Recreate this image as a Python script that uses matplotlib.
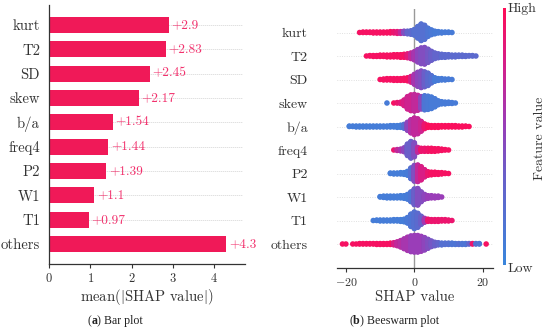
import numpy as np
import matplotlib
matplotlib.use('Agg')
import matplotlib.pyplot as plt
from matplotlib.colors import LinearSegmentedColormap

# ---------------- data ----------------
features = ['kurt', 'T2', 'SD', 'skew', 'b/a', 'freq4', 'P2', 'W1', 'T1', 'others']
mean_abs_shap = [2.9, 2.83, 2.45, 2.17, 1.54, 1.44, 1.39, 1.1, 0.97, 4.3]
bar_ticks = [0, 1, 2, 3, 4]
swarm_ticks = [-20, 0, 20]

# beeswarm: per feature, SHAP value positions, number of points there, mean feature value (0 low .. 1 high)
kurt_shap = [-16, -15, -14, -13, -12, -11, -10, -9, -8, -7, -6, -5, -4, -3, -2, -1, 0, 1, 2, 3, 4, 5, 6, 7, 8, 9, 10, 11]
kurt_count = [1, 2, 2, 2, 3, 3, 3, 3, 3, 4, 4, 5, 5, 6, 7, 9, 14, 28, 40, 34, 20, 12, 7, 4, 3, 2, 2, 1]
kurt_feat = [.95, .95, .95, .95, .95, .95, .95, .95, .95, .95, .9, .85, .7, .45, .3, .25, .2, .2, .2, .2, .15, .12, .1, .1, .1, .1, .1, .1]

T2_shap = [-14, -13, -12, -11, -10, -9, -8, -7, -6, -5, -4, -3, -2, -1, 0, 1, 2, 3, 4, 5, 6, 7, 8, 9, 10, 11, 12, 13, 14, 15, 16, 17, 18]
T2_count = [1, 2, 3, 3, 4, 4, 5, 5, 6, 6, 7, 8, 10, 14, 20, 30, 38, 40, 32, 22, 14, 10, 8, 7, 6, 5, 5, 4, 4, 3, 2, 2, 1]
T2_feat = [.95, .95, .95, .95, .95, .95, .95, .95, .95, .95, .95, .95, .85, .7, .6, .5, .45, .45, .4, .35, .3, .3, .25, .25, .25, .25, .25, .25, .25, .25, .25, .25, .25]

SD_shap = [-10, -9, -8, -7, -6, -5, -4, -3, -2, -1, 0, 1, 2, 3, 4, 5, 6, 7, 8, 9, 10, 11]
SD_count = [1, 3, 4, 4, 5, 5, 5, 6, 8, 14, 24, 34, 40, 36, 30, 18, 9, 5, 4, 3, 2, 1]
SD_feat = [.95, .95, .95, .95, .95, .95, .95, .95, .95, .8, .6, .5, .45, .35, .25, .2, .1, .1, .1, .1, .1, .1]

skew_shap = [-8, -6, -5, -4, -3, -2, -1, 0, 1, 2, 3, 4, 5, 6, 7, 8, 9, 10, 11, 12]
skew_count = [1, 1, 2, 4, 14, 30, 38, 40, 36, 30, 34, 32, 28, 20, 10, 6, 5, 4, 3, 1]
skew_feat = [.1, .95, .9, .85, .8, .75, .75, .7, .7, .5, .15, .12, .1, .1, .1, .1, .1, .1, .1, .1]

ba_shap = [-19, -18, -17, -16, -15, -14, -13, -12, -11, -10, -9, -8, -7, -6, -5, -4, -3, -2, -1, 0, 1, 2, 3, 4, 5, 6, 7, 8, 9, 10, 11, 12, 13, 14, 15, 16]
ba_count = [2, 2, 3, 3, 3, 3, 3, 3, 3, 3, 3, 3, 4, 4, 5, 6, 10, 20, 32, 40, 36, 24, 12, 6, 5, 5, 5, 4, 4, 4, 4, 4, 3, 3, 2, 1]
ba_feat = [.08, .08, .08, .08, .08, .08, .08, .08, .08, .08, .08, .08, .08, .08, .08, .08, .2, .5, .65, .7, .7, .75, .9, .97, .97, .97, .97, .97, .97, .97, .97, .97, .97, .97, .97, .97]

freq4_shap = [-6, -5, -4, -3, -2, -1, 0, 1, 2, 3, 4, 5, 6, 7, 8, 9, 10]
freq4_count = [1, 3, 5, 10, 28, 40, 34, 12, 8, 8, 8, 8, 7, 6, 4, 2, 1]
freq4_feat = [.9, .7, .6, .5, .35, .35, .45, .7, .9, .9, .92, .95, .95, .95, .95, .95, .95]

P2_shap = [-7, -6, -5, -4, -3, -2, -1, 0, 1, 2, 3, 4, 5, 6, 7, 8, 9, 10]
P2_count = [2, 3, 3, 4, 5, 10, 26, 38, 40, 32, 18, 9, 7, 6, 5, 4, 2, 1]
P2_feat = [.08, .08, .08, .08, .08, .1, .2, .45, .7, .8, .8, .9, .95, .95, .95, .95, .95, .95]

W1_shap = [-10, -9, -8, -7, -6, -5, -4, -3, -2, -1, 0, 1, 2, 3, 4, 5, 6, 7, 8]
W1_count = [2, 4, 5, 5, 5, 5, 6, 7, 12, 24, 38, 40, 24, 12, 7, 6, 5, 4, 1]
W1_feat = [.08, .08, .08, .08, .08, .08, .08, .08, .1, .15, .35, .45, .45, .5, .55, .55, .55, .55, .55]

T1_shap = [-12, -11, -10, -9, -8, -7, -6, -5, -4, -3, -2, -1, 0, 1, 2, 3, 4, 5, 6, 7, 8, 9, 10, 11]
T1_count = [1, 2, 3, 3, 3, 3, 4, 4, 5, 7, 14, 30, 40, 34, 20, 10, 6, 5, 5, 5, 4, 4, 3, 1]
T1_feat = [.08, .08, .08, .08, .08, .08, .08, .08, .08, .08, .12, .15, .2, .25, .35, .6, .9, .9, .9, .9, .9, .9, .9, .9]

others_shap = [-21, -20, -18, -17, -16, -15, -14, -13, -12, -11, -10, -9, -8, -7, -6, -5, -4, -3, -2, -1, 0, 1, 2, 3, 4, 5, 6, 7, 8, 9, 10, 11, 12, 13, 14, 15, 16, 17, 18, 19, 21]
others_count = [1, 1, 1, 1, 2, 2, 2, 2, 2, 3, 3, 3, 3, 4, 6, 10, 16, 24, 32, 38, 40, 40, 36, 30, 22, 14, 9, 6, 5, 4, 4, 4, 3, 3, 3, 3, 2, 2, 2, 2, 1]
others_feat = [.95, .95, .95, .95, .95, .95, .95, .95, .95, .95, .95, .95, .95, .95, .8, .7, .65, .6, .6, .55, .55, .55, .55, .5, .45, .4, .35, .3, .2, .2, .2, .15, .15, .2, .15, .15, .3, .9, .2, .15, .95]

swarm_data = [
    (kurt_shap, kurt_count, kurt_feat),
    (T2_shap, T2_count, T2_feat),
    (SD_shap, SD_count, SD_feat),
    (skew_shap, skew_count, skew_feat),
    (ba_shap, ba_count, ba_feat),
    (freq4_shap, freq4_count, freq4_feat),
    (P2_shap, P2_count, P2_feat),
    (W1_shap, W1_count, W1_feat),
    (T1_shap, T1_count, T1_feat),
    (others_shap, others_count, others_feat),
]

# ---------------- style ----------------
plt.rcParams['font.family'] = 'cmr10'
plt.rcParams['mathtext.fontset'] = 'cm'
plt.rcParams['axes.formatter.use_mathtext'] = True
plt.rcParams['axes.unicode_minus'] = True

bar_color = '#f01958'
label_color = '#f2306c'
text_color = '#333333'
cmap = LinearSegmentedColormap.from_list(
    'shap_rb', [(0.0, '#3a86dc'), (0.35, '#6a5fc9'), (0.55, '#9a3db8'),
                (0.78, '#d51f8a'), (1.0, '#ff0d57')])

W, H = 550, 333
fig = plt.figure(figsize=(W / 100, H / 100), dpi=100)


def ax_px(l, t, r, b):
    return fig.add_axes([l / W, 1 - b / H, (r - l) / W, (b - t) / H])


n = len(features)
ypos = np.arange(n)[::-1]

# ---------------- (a) bar plot ----------------
ax1 = ax_px(49, 5, 245, 264)
ax1.barh(ypos, mean_abs_shap, height=0.66, color=bar_color, zorder=2)
ax1.hlines(ypos[:-1], 0, 4.7, colors='#b8b8b8', lw=0.6,
           linestyles=(0, (0.8, 1.6)), zorder=1)
for y, v in zip(ypos, mean_abs_shap):
    ax1.text(v + 0.06, y, '+' + f'{v:g}', va='center', ha='left',
             color=label_color, fontsize=9.6, zorder=3)
ax1.set_xlim(0, 4.75)
ax1.set_ylim(-0.82, 9.82)
ax1.set_yticks(ypos)
ax1.set_yticklabels(features, fontsize=10.6, color=text_color)
ax1.tick_params(axis='y', length=0, pad=6.5)
ax1.set_xticks(bar_ticks)
ax1.tick_params(axis='x', labelsize=9, colors=text_color, length=3, width=0.8, pad=2.5)
ax1.set_xlabel('mean($|$SHAP value$|$)', fontsize=10.6, color=text_color, labelpad=2)
for s in ['top', 'right']:
    ax1.spines[s].set_visible(False)
for s in ['left', 'bottom']:
    ax1.spines[s].set_color(text_color)
    ax1.spines[s].set_linewidth(0.9)

# ---------------- (b) beeswarm plot ----------------
ax2 = ax_px(337, 9, 493, 267.5)
ax2.set_xlim(-22.6, 23.0)
ax2.set_ylim(-1, 10)
ax2.hlines(ypos, -22.6, 23.0, colors='#cccccc', lw=0.6,
           linestyles=(0, (0.8, 2.0)), zorder=0)
ax2.axvline(0, color='#999999', lw=1.0, zorder=1)
row_height = 0.42
for y, (xs, cs, fs) in zip(ypos, swarm_data):
    px, py, pc = [], [], []
    for x, c, f in zip(xs, cs, fs):
        for layer in range(c):
            off = np.ceil(layer / 2) * ((layer % 2) * 2 - 1)
            px.append(x)
            py.append(off)
            pc.append(f)
    py = np.array(py, dtype=float)
    py *= 0.9 * (row_height / np.max(py + 1))
    ax2.scatter(px, y + py, c=pc, cmap=cmap, vmin=0, vmax=1, s=16,
                linewidths=0, zorder=3)
ax2.set_yticks(ypos)
ax2.set_yticklabels(features, fontsize=10, color=text_color)
ax2.tick_params(axis='y', length=0, pad=21)
ax2.set_xticks(swarm_ticks)
ax2.tick_params(axis='x', labelsize=8.6, colors=text_color, length=3, width=0.8, pad=3)
ax2.set_xlabel('SHAP value', fontsize=10.6, color=text_color, labelpad=2)
for s in ['top', 'right', 'left']:
    ax2.spines[s].set_visible(False)
ax2.spines['bottom'].set_color(text_color)
ax2.spines['bottom'].set_linewidth(0.9)

# colorbar
cax = ax_px(502.5, 8, 505.5, 265)
cax.imshow(np.linspace(0, 1, 256)[:, None], aspect='auto', cmap=cmap, origin='lower')
cax.axis('off')
fig.text(508 / W, 1 - 9 / H, 'High', fontsize=10, color=text_color, va='center', ha='left')
fig.text(508 / W, 1 - 268.5 / H, 'Low', fontsize=10, color=text_color, va='center', ha='left')
fig.text(540 / W, 1 - 138 / H, 'Feature value', fontsize=10, color=text_color,
         va='center', ha='center', rotation=90)

# ---------------- captions ----------------
renderer = fig.canvas.get_renderer()


def caption(cx, cy, letter, rest):
    parts = [('(', 'normal'), (letter, 'bold'), (') ' + rest, 'normal')]
    texts = []
    for s, w in parts:
        t = fig.text(0, 1 - cy / H, s, fontsize=8.6, family='Liberation Serif',
                     weight=w, color='#222222', va='center', ha='left')
        texts.append(t)
    widths = [t.get_window_extent(renderer).width for t in texts]
    x = cx - sum(widths) / 2
    for t, wd in zip(texts, widths):
        t.set_x(x / W)
        x += wd


caption(115, 321, 'a', 'Bar plot')
caption(394, 321, 'b', 'Beeswarm plot')

fig.savefig('out.png', dpi=100)
